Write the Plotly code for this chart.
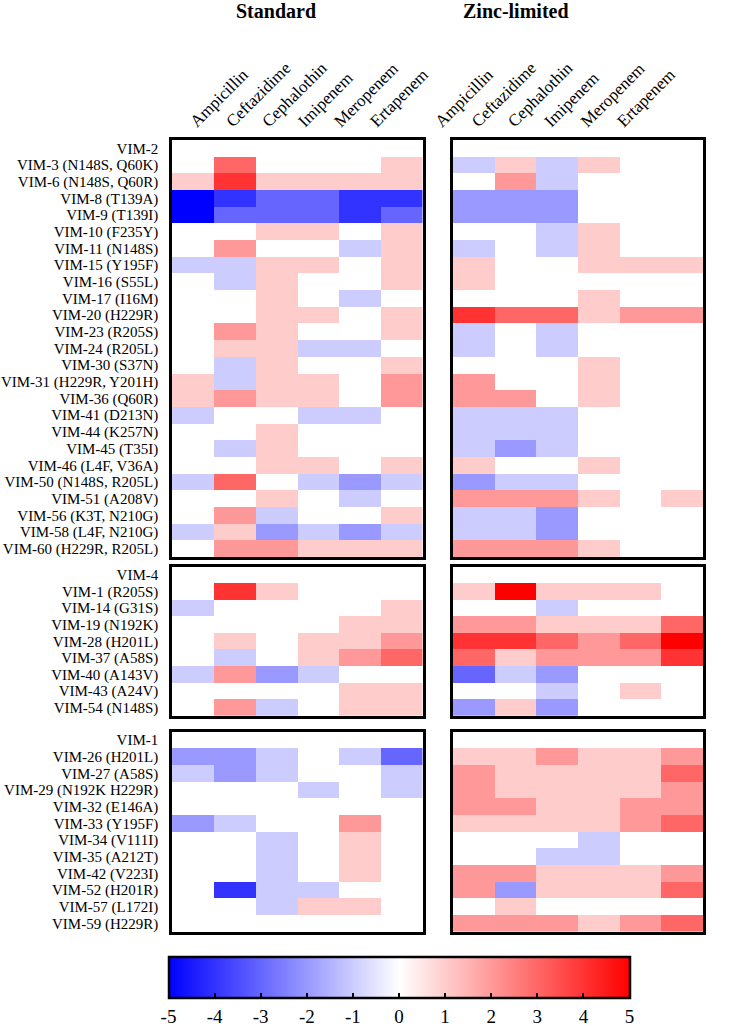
import plotly.graph_objects as go

antibiotics = ["Ampicillin", "Ceftazidime", "Cephalothin", "Imipenem", "Meropenem", "Ertapenem"]
conditions = ["Standard", "Zinc-limited"]

g1_rows = ["VIM-2", "VIM-3 (N148S, Q60K)", "VIM-6 (N148S, Q60R)", "VIM-8 (T139A)", "VIM-9 (T139I)",
           "VIM-10 (F235Y)", "VIM-11 (N148S)", "VIM-15 (Y195F)", "VIM-16 (S55L)", "VIM-17 (I16M)",
           "VIM-20 (H229R)", "VIM-23 (R205S)", "VIM-24 (R205L)", "VIM-30 (S37N)", "VIM-31 (H229R, Y201H)",
           "VIM-36 (Q60R)", "VIM-41 (D213N)", "VIM-44 (K257N)", "VIM-45 (T35I)", "VIM-46 (L4F, V36A)",
           "VIM-50 (N148S, R205L)", "VIM-51 (A208V)", "VIM-56 (K3T, N210G)", "VIM-58 (L4F, N210G)",
           "VIM-60 (H229R, R205L)"]
g1_standard = [
    [0, 0, 0, 0, 0, 0],
    [0, 3, 0, 0, 0, 1],
    [1, 4, 1, 1, 1, 1],
    [-5, -4, -3, -3, -4, -4],
    [-5, -3, -3, -3, -4, -3],
    [0, 0, 1, 1, 0, 1],
    [0, 2, 0, 0, -1, 1],
    [-1, -1, 1, 1, 0, 1],
    [0, -1, 1, 0, 0, 1],
    [0, 0, 1, 0, -1, 0],
    [0, 0, 1, 1, 0, 1],
    [0, 2, 1, 0, 0, 1],
    [0, 1, 1, -1, -1, 0],
    [0, -1, 1, 0, 0, 1],
    [1, -1, 1, 1, 0, 2],
    [1, 2, 1, 1, 0, 2],
    [-1, 0, 0, -1, -1, 0],
    [0, 0, 1, 0, 0, 0],
    [0, -1, 1, 0, 0, 0],
    [0, 0, 1, 1, 0, 1],
    [-1, 3, 0, -1, -2, -1],
    [0, 0, 1, 0, -1, 0],
    [0, 2, -1, 0, 0, 1],
    [-1, 1, -2, -1, -2, -1],
    [0, 2, 2, 1, 1, 1],
]
g1_zinc = [
    [0, 0, 0, 0, 0, 0],
    [-1, 1, -1, 1, 0, 0],
    [0, 2, -1, 0, 0, 0],
    [-2, -2, -2, 0, 0, 0],
    [-2, -2, -2, 0, 0, 0],
    [0, 0, -1, 1, 0, 0],
    [-1, 0, -1, 1, 0, 0],
    [1, 0, 0, 1, 1, 1],
    [1, 0, 0, 0, 0, 0],
    [0, 0, 0, 1, 0, 0],
    [4, 3, 3, 1, 2, 2],
    [-1, 0, -1, 0, 0, 0],
    [-1, 0, -1, 0, 0, 0],
    [0, 0, 0, 1, 0, 0],
    [2, 0, 0, 1, 0, 0],
    [2, 2, 0, 1, 0, 0],
    [-1, -1, -1, 0, 0, 0],
    [-1, -1, -1, 0, 0, 0],
    [-1, -2, -1, 0, 0, 0],
    [1, 0, 0, 1, 0, 0],
    [-2, -1, -1, 0, 0, 0],
    [2, 2, 2, 1, 0, 1],
    [-1, -1, -2, 0, 0, 0],
    [-1, -1, -2, 0, 0, 0],
    [2, 2, 2, 1, 0, 0],
]

g2_rows = ["VIM-4", "VIM-1 (R205S)", "VIM-14 (G31S)", "VIM-19 (N192K)", "VIM-28 (H201L)",
           "VIM-37 (A58S)", "VIM-40 (A143V)", "VIM-43 (A24V)", "VIM-54 (N148S)"]
g2_standard = [
    [0, 0, 0, 0, 0, 0],
    [0, 4, 1, 0, 0, 0],
    [-1, 0, 0, 0, 0, 1],
    [0, 0, 0, 0, 1, 1],
    [0, 1, 0, 1, 1, 2],
    [0, -1, 0, 1, 2, 3],
    [-1, 2, -2, -1, 0, 0],
    [0, 0, 0, 0, 1, 1],
    [0, 2, -1, 0, 1, 1],
]
g2_zinc = [
    [0, 0, 0, 0, 0, 0],
    [1, 5, 1, 1, 1, 0],
    [0, 0, -1, 0, 0, 0],
    [2, 2, 1, 1, 1, 3],
    [4, 4, 3, 2, 3, 5],
    [3, 1, 2, 2, 2, 4],
    [-3, -1, -2, 0, 0, 0],
    [0, 0, -1, 0, 1, 0],
    [-2, 1, -2, 0, 0, 0],
]

g3_rows = ["VIM-1", "VIM-26 (H201L)", "VIM-27 (A58S)", "VIM-29 (N192K H229R)", "VIM-32 (E146A)",
           "VIM-33 (Y195F)", "VIM-34 (V111I)", "VIM-35 (A212T)", "VIM-42 (V223I)", "VIM-52 (H201R)",
           "VIM-57 (L172I)", "VIM-59 (H229R)"]
g3_standard = [
    [0, 0, 0, 0, 0, 0],
    [-2, -2, -1, 0, -1, -3],
    [-1, -2, -1, 0, 0, -1],
    [0, 0, 0, -1, 0, -1],
    [0, 0, 0, 0, 0, 0],
    [-2, -1, 0, 0, 2, 0],
    [0, 0, -1, 0, 1, 0],
    [0, 0, -1, 0, 1, 0],
    [0, 0, -1, 0, 1, 0],
    [0, -4, -1, -1, 0, 0],
    [0, 0, -1, 1, 1, 0],
    [0, 0, 0, 0, 0, 0],
]
g3_zinc = [
    [0, 0, 0, 0, 0, 0],
    [1, 1, 2, 1, 1, 2],
    [2, 1, 1, 1, 1, 3],
    [2, 1, 1, 1, 1, 2],
    [2, 2, 1, 1, 2, 2],
    [1, 1, 1, 1, 2, 3],
    [0, 0, 0, -1, 0, 0],
    [0, 0, -1, -1, 0, 0],
    [2, 2, 1, 1, 1, 2],
    [2, -2, 1, 1, 1, 3],
    [0, 1, 0, 0, 0, 0],
    [2, 2, 2, 1, 2, 3],
]

colorbar_ticks = [-5, -4, -3, -2, -1, 0, 1, 2, 3, 4, 5]
colorbar_ticktext = ["-5", "-4", "-3", "-2", "-1", "0", "1", "2", "3", "4", "5"]

# ---------------- layout geometry (pixels) ----------------
W, H = 750, 1031
FONT = "Liberation Serif, Times New Roman, serif"
col_px = [(172, 422.5), (453, 703)]
grp_px = [(140, 557), (566.7, 716), (731.7, 931.7)]
# column-header label placement (pixel start of first label, spacing, shift)
hdr_start = [201, 466]
hdr_step = [36, 36.4]
hdr_shift = [-10, -30]


def xdom(a, b):
    return [a / W, b / W]


def ydom(top, bottom):
    return [1 - bottom / H, 1 - top / H]


groups = [
    (g1_rows, g1_standard, g1_zinc),
    (g2_rows, g2_standard, g2_zinc),
    (g3_rows, g3_standard, g3_zinc),
]

colorscale = [[0.0, "#0000FF"], [0.5, "#FFFFFF"], [1.0, "#FF0000"]]
col_idx = list(range(len(antibiotics)))

fig = go.Figure()
layout_axes = {}
n = 0
for gi, (rows, std, znc) in enumerate(groups):
    for ci, z in enumerate([std, znc]):
        n += 1
        xname = "x" if n == 1 else f"x{n}"
        yname = "y" if n == 1 else f"y{n}"
        fig.add_trace(go.Heatmap(
            z=z, x=col_idx, y=rows, coloraxis="coloraxis",
            xaxis=xname, yaxis=yname, xgap=0, ygap=0,
            customdata=[antibiotics] * len(rows),
            hovertemplate="%{y}<br>%{customdata}: %{z}<extra></extra>",
        ))
        x0, x1 = col_px[ci]
        cw = (x1 - x0) / len(antibiotics)
        tpos = [(hdr_start[ci] + hdr_step[ci] * i - x0) / cw - 0.5 for i in col_idx]
        xa = dict(
            domain=xdom(x0, x1), anchor=yname, side="top",
            range=[-0.5, len(antibiotics) - 0.5],
            showline=True, mirror=True, linecolor="black", linewidth=2.5,
            showgrid=False, zeroline=False, ticks="",
            tickmode="array", tickvals=tpos, ticktext=antibiotics,
            showticklabels=(gi == 0), tickangle=-45,
            tickfont=dict(family=FONT, size=17, color="black"),
            ticklabelstandoff=0, ticklabelshift=hdr_shift[ci], automargin=False,
        )
        ya = dict(
            domain=ydom(*grp_px[gi]), anchor=xname, autorange="reversed",
            showline=True, mirror=True, linecolor="black", linewidth=2.5,
            showgrid=False, zeroline=False, ticks="",
            tickmode="array", tickvals=rows, ticktext=rows,
            showticklabels=(ci == 0),
            tickfont=dict(family=FONT, size=15, color="black"),
            ticklabelstandoff=8, automargin=False,
        )
        layout_axes["xaxis" if n == 1 else f"xaxis{n}"] = xa
        layout_axes["yaxis" if n == 1 else f"yaxis{n}"] = ya

fig.update_layout(**layout_axes)

fig.update_layout(
    width=W, height=H,
    margin=dict(l=0, r=0, t=0, b=0, pad=0, autoexpand=False),
    paper_bgcolor="white", plot_bgcolor="white",
    font=dict(family=FONT, color="black"),
    coloraxis=dict(
        cmin=-5, cmax=5, colorscale=colorscale,
        colorbar=dict(
            orientation="h", x=399 / W, xanchor="center",
            y=1 - 957 / H, yanchor="top",
            len=461, lenmode="pixels", thickness=41, thicknessmode="pixels",
            outlinewidth=2.5, outlinecolor="black",
            ticks="inside", ticklen=6, tickwidth=2, tickcolor="black",
            tickmode="array", tickvals=colorbar_ticks, ticktext=colorbar_ticktext,
            tickfont=dict(family=FONT, size=19, color="black"),
            xpad=0, ypad=0,
        ),
    ),
    annotations=[
        dict(text="<b>" + conditions[0] + "</b>", x=276 / W, y=1 - 11 / H, xref="paper", yref="paper",
             showarrow=False, xanchor="center", yanchor="middle",
             font=dict(family=FONT, size=20, color="black")),
        dict(text="<b>" + conditions[1] + "</b>", x=516 / W, y=1 - 11 / H, xref="paper", yref="paper",
             showarrow=False, xanchor="center", yanchor="middle",
             font=dict(family=FONT, size=20, color="black")),
    ],
)

fig.write_html(
    "out.html",
    config={"displayModeBar": False},
    post_script="document.body.style.margin='0';document.body.style.overflow='hidden';",
)
